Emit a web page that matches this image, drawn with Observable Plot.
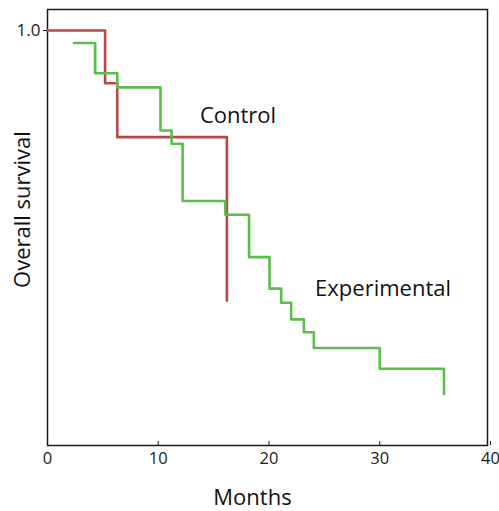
<!DOCTYPE html>
<html>
<head>
<meta charset="utf-8">
<script src="https://cdn.jsdelivr.net/npm/d3@7"></script>
<script src="https://cdn.jsdelivr.net/npm/@observablehq/plot@0.6"></script>
<style>
  html, body { margin: 0; padding: 0; background: #fff; }
  #chart svg { display: block; }
</style>
</head>
<body>
<div id="chart"></div>
<script>
// Control arm (Kaplan–Meier steps)
const controlMonths   = [0, 5.2, 6.3, 16.2];
const controlSurvival = [1.0, 0.873, 0.743, 0.349];

// Experimental arm
const expMonths   = [2.4, 4.3, 6.3, 10.2, 11.2, 12.2, 16.05, 18.2, 20.05, 21.1, 22.0, 23.15, 24.05, 30.0, 35.8];
const expSurvival = [0.970, 0.897, 0.863, 0.759, 0.727, 0.589, 0.556, 0.454, 0.378, 0.344, 0.304, 0.273, 0.235, 0.185, 0.124];

// Annotations
const labelText  = ["Control", "Experimental"];
const labelMonth = [17.2, 30.3];
const labelSurv  = [0.795, 0.378];

// Tick labels
const xTicks = [0, 10, 20, 30, 40];
const yTicks = [1.0];

const control = controlMonths.map((m, i) => ({month: m, surv: controlSurvival[i]}));
const experimental = expMonths.map((m, i) => ({month: m, surv: expSurvival[i]}));
const labels = labelText.map((t, i) => ({text: t, month: labelMonth[i], surv: labelSurv[i]}));

const font = "'Open Sans', 'DejaVu Sans', sans-serif";

const chart = Plot.plot({
  width: 499,
  height: 511,
  marginLeft: 47,
  marginRight: 12,
  marginTop: 9,
  marginBottom: 66,
  style: {fontFamily: font, background: "#fff", color: "#111"},
  x: {domain: [0, 39.73], axis: null},
  y: {domain: [0, 1.0506], axis: null},
  marks: [
    Plot.frame({stroke: "#1a1a1a", strokeWidth: 1.5}),
    Plot.axisX(xTicks, {anchor: "bottom", tickSize: -4, tickPadding: 11, fontSize: 16.5, dx: 0, label: null, stroke: "#1a1a1a", fill: "#1a1a1a"}),
    Plot.axisY(yTicks, {anchor: "left", tickSize: 4, tickPadding: 3, fontSize: 17, tickFormat: d => d.toFixed(1), label: null, fill: "#1a1a1a"}),
    Plot.line(control, {x: "month", y: "surv", curve: "step-after", stroke: "#b8474a", strokeWidth: 2.6}),
    Plot.line(experimental, {x: "month", y: "surv", curve: "step-after", stroke: "#5cbc4c", strokeWidth: 2.6}),
    Plot.text(labels, {x: "month", y: "surv", text: "text", fontSize: 22, fill: "#111"}),
    Plot.text(["Months"], {frameAnchor: "bottom", textAnchor: "middle", dx: -15, dy: 59, fontSize: 22, fill: "#111"}),
    Plot.text(["Overall survival"], {frameAnchor: "left", textAnchor: "middle", dx: -25, dy: -18, rotate: -90, fontSize: 22, fill: "#111"})
  ]
});
document.getElementById("chart").appendChild(chart);
</script>
</body>
</html>
